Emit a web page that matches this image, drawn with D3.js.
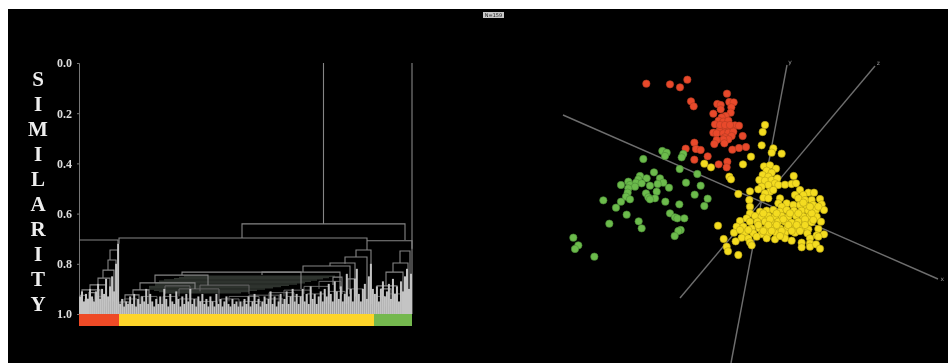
<!DOCTYPE html>
<html>
<head>
<meta charset="utf-8">
<script src="https://d3js.org/d3.v7.min.js"></script>
<style>
    html, body { margin: 0; padding: 0; background: #fff; overflow: hidden; }
    svg { display: block; }
    .soft { filter: blur(0.7px); }
</style>
</head>
<body>
<div id="chart"></div>
<script>
const titleLetters = ["S", "I", "M", "I", "L", "A", "R", "I", "T", "Y"];
const similarityTicks = [0, 0.2, 0.4, 0.6, 0.8, 1];
const sampleLabel = "N=159";

// clusters along the colour bar, start and end in leaf units
const barStart = [0, 40, 295];
const barEnd = [40, 295, 333];
const barColors = ["#ee4a26", "#fdd52a", "#74b84e"];

// similarity reached by each leaf stem, left to right
const redStems = [.93, .91, .95, .92, .94, .90, .93, .95, .91, .88, .94, .90, .92, .86, .93, .89, .85, .91, .80, .72];
const yellowStems = [
    .96, .94, .97, .95, .96, .93, .96, .92, .97, .94, .96, .93, .95, .90, .96, .92, .95, .97, .94, .96,
    .93, .96, .90, .94, .97, .92, .95, .96, .91, .94, .97, .93, .96, .92, .95, .90, .96, .94, .97, .93,
    .95, .92, .96, .94, .97, .93, .95, .97, .92, .96, .94, .97, .95, .93, .96, .97, .94, .96, .95, .97,
    .95, .97, .94, .96, .93, .97, .95, .92, .96, .94, .97, .95, .93, .96, .94, .91, .96, .93, .97, .95,
    .92, .96, .94, .91, .96, .93, .90, .95, .92, .96, .93, .90, .95, .92, .96, .89, .94, .92, .96, .93,
    .91, .95, .90, .93, .88, .92, .95, .87, .91, .94, .89, .95, .92, .84, .93, .90, .95, .86, .82, .92, .95, .90, .88, .94, .85, .80, .90
];
const greenStems = [.92, .89, .95, .90, .87, .93, .91, .88, .94, .86, .92, .89, .95, .87, .91, .85, .82, .90, .84];

// dendrogram joins: [left, right, top, left bottom, right bottom]
const mainLinks = [
    [244.5, 244.5, 0, .641, .641], [333, 333, 0, 1, 1],
    [163, 326, .641, .697, .705], [0, 39, .705, .705, .72], [40, 288, .697, .72, .745], [288, 333, .708, .708, .74],
    [31, 39, .745, .785, 1], [29, 37, .785, .825, 1], [24, 35, .825, .857, .95], [19, 31, .857, .884, .95],
    [11, 27, .884, .904, .94], [3, 21, .904, .95, .94], [1, 7, .925, .96, .95], [10, 16, .915, .96, .95],
    [277, 292, .745, .773, .96], [266, 288, .773, .80, .95], [251, 276, .797, .809, .93], [224, 271, .809, .833, .92],
    [183, 261, .833, .845, .90], [103, 222, .833, .845, .90], [76, 129, .845, .876, .885],
    [61, 116, .876, .904, .90], [54, 70, .904, .924, .96], [46, 60, .924, .952, .96], [41, 50, .952, .97, .96],
    [321, 331, .749, .797, .95], [314, 329, .797, .833, .95], [307, 324, .833, .888, .93], [298, 318, .888, .93, .95],
    [302, 312, .90, .94, .95], [254, 263, .853, .884, .92], [269, 277, .86, .90, .93]
];
// small low joins, drawn a bit dimmer
const lowLinks = [
    [86, 111, .888, .92, .94], [121, 170, .885, .91, .92], [100, 140, .90, .93, .95], [150, 180, .93, .95, .96],
    [170, 200, .925, .95, .96], [190, 215, .915, .94, .95], [205, 232, .905, .93, .95], [225, 250, .89, .92, .94],
    [240, 262, .87, .90, .93],
    [45, 58, .94, .97, .97], [62, 78, .93, .97, .96], [84, 98, .93, .97, .96], [100, 118, .94, .97, .97],
    [120, 138, .95, .97, .97], [142, 160, .94, .97, .97], [164, 182, .95, .975, .97], [186, 204, .94, .97, .97],
    [208, 224, .93, .97, .96], [228, 246, .92, .97, .96], [250, 266, .91, .96, .96], [268, 284, .90, .96, .95],
    [6, 14, .94, .97, .97], [18, 26, .93, .97, .97], [298, 306, .93, .97, .97], [310, 322, .92, .97, .96]
];
// the faint layered lines that read as a dark block under the big joins
const faintStart = [105, 100, 95, 85, 80, 76, 76, 76, 70, 70, 70, 75, 80, 85];
const faintEnd = [256, 250, 244, 238, 232, 226, 218, 210, 202, 194, 186, 178, 170, 162];
const faintLevel = [.85, .855, .86, .865, .87, .875, .88, .885, .89, .895, .90, .905, .91, .915];

const redPoints = [
    [259, 101], [330, 103], [360, 112], [382, 89], [393, 154], [401, 169], [501, 131], [472, 162], [482, 165], [508, 156],
    [521, 157], [514, 172], [482, 178], [460, 191], [512, 188], [497, 198], [485, 202], [476, 212], [465, 223], [490, 215],
    [505, 212], [525, 226], [537, 227], [500, 230], [515, 240], [488, 235], [478, 243], [460, 248], [470, 250], [490, 250],
    [505, 248], [520, 245], [495, 262], [515, 258], [505, 268], [548, 258], [490, 268], [470, 270], [463, 282], [493, 280],
    [403, 278], [377, 296], [408, 297], [422, 300], [443, 319], [403, 329], [517, 299], [537, 294], [558, 291], [476, 343],
    [502, 335], [500, 352], [480, 225], [495, 225], [510, 225]
];
const greenPoints = [
    [250, 327], [307, 303], [320, 308], [315, 318], [370, 312], [365, 322], [359, 357], [412, 372], [378, 398], [422, 407],
    [404, 434], [443, 446], [433, 468], [282, 367], [240, 378], [260, 385], [235, 388], [228, 398], [205, 395], [183, 405],
    [210, 405], [245, 400], [225, 410], [205, 415], [300, 385], [310, 398], [293, 402], [270, 407], [327, 413], [290, 425],
    [203, 428], [198, 440], [210, 448], [258, 430], [265, 442], [285, 445], [270, 448], [316, 455], [358, 463], [183, 455],
    [168, 473], [130, 451], [200, 494], [148, 521], [236, 514], [245, 535], [330, 490], [345, 502], [352, 505], [373, 505],
    [362, 540], [355, 543], [344, 558], [40, 563], [55, 586], [45, 597], [103, 620]
];
const yellowPoints = [
    [615, 225], [608, 246], [605, 286], [640, 295], [635, 308], [665, 311], [573, 320], [549, 343], [433, 341], [453, 352],
    [508, 380], [513, 388], [535, 432], [570, 424], [701, 378], [474, 527], [491, 567], [500, 590], [504, 604], [535, 615],
    [612, 349], [630, 346], [648, 356], [620, 362], [635, 368], [608, 375], [625, 380], [598, 390], [615, 392], [635, 390],
    [652, 385], [645, 400], [625, 405], [605, 410], [595, 418], [655, 405], [675, 404], [695, 402], [708, 400], [630, 425],
    [615, 430], [610, 443], [625, 445], [640, 420],
    [720, 420], [745, 428], [762, 428], [705, 435], [730, 435], [715, 445], [735, 450], [755, 450], [780, 447], [660, 445], [568, 450],
    [570, 470], [680, 460], [700, 465], [720, 465], [740, 468], [760, 465], [785, 463], [655, 460], [665, 470],
    [570, 490], [600, 485], [620, 482], [640, 480], [660, 485], [680, 480], [702, 482], [725, 482], [745, 482], [768, 480], [792, 480],
    [560, 505], [585, 498], [605, 500], [625, 498], [645, 500], [665, 498], [685, 500], [708, 498], [730, 500], [750, 498], [770, 500],
    [540, 513], [570, 515], [592, 515], [615, 515], [635, 517], [655, 515], [675, 515], [695, 518], [715, 515], [735, 515], [755, 517], [783, 515],
    [530, 530], [550, 530], [575, 535], [598, 535], [620, 535], [640, 535], [660, 535], [682, 535], [702, 538], [725, 535], [745, 538], [775, 537],
    [522, 548], [555, 548], [580, 550], [605, 552], [625, 550], [650, 550], [675, 550], [705, 548], [742, 550], [770, 556], [792, 553],
    [545, 563], [565, 565], [620, 565], [645, 568], [675, 565], [695, 572], [750, 565], [775, 560],
    [527, 574], [570, 577], [575, 586], [725, 578], [750, 580], [725, 592], [750, 590], [768, 583], [780, 596],
    [610, 490], [630, 508], [650, 490], [670, 508], [690, 490], [715, 490], [735, 508], [755, 490], [775, 470], [595, 525],
    [625, 525], [650, 525], [685, 525], [710, 525], [735, 525], [565, 540], [610, 543], [635, 543], [665, 543], [695, 543],
    [720, 543], [540, 540], [590, 560], [660, 558], [760, 510], [750, 470], [730, 458]
];

// 3D axes: name, both ends, label spot
const axisNames = ["x", "y", "z"];
const axisFrom = [[9, 195], [681, 45], [945, 48]];
const axisTo = [[1134, 687], [513, 939], [360, 744]];
const axisLabelAt = [[1147, 693], [690, 42], [955, 44]];

const width = 948, height = 363;

const svg = d3.select("#chart").append("svg")
    .attr("width", width)
    .attr("height", height);

// the picture is a black panel with a white sliver top and left
svg.append("rect")
    .attr("x", 8)
    .attr("y", 9)
    .attr("width", width - 8)
    .attr("height", height - 9)
    .attr("fill", "black");

let y = d3.scaleLinear().domain([0, 1]).range([63, 314]);
let x = d3.scaleLinear().domain([0, 333]).range([79, 412]);
let leaf = d3.scaleLinear().domain([0, 165]).range([80, 411]);

let left = svg.append("g").attr("class", "soft");

// vertical title
left.append("g")
    .selectAll("text")
    .data(titleLetters)
    .enter()
    .append("text")
    .attr("x", 38)
    .attr("y", (d, i) => 86 + i * 25)
    .attr("text-anchor", "middle")
    .attr("font-family", "Liberation Serif")
    .attr("font-weight", "bold")
    .attr("font-size", "21px")
    .attr("fill", "#eee")
    .text(d => d);

// similarity axis
let yAxis = left.append("g")
    .attr("transform", "translate(79,0)")
    .call(d3.axisLeft(y).tickValues(similarityTicks).tickFormat(d3.format(".1f")).tickSize(2).tickPadding(5));
yAxis.selectAll("path, line").attr("stroke", "#777");
yAxis.selectAll("text")
    .attr("font-family", "Liberation Serif")
    .attr("font-weight", "bold")
    .attr("font-size", "12px")
    .attr("fill", "#ddd");

left.append("g")
    .selectAll("line")
    .data(faintLevel)
    .enter()
    .append("line")
    .attr("x1", (d, i) => x(faintStart[i]))
    .attr("x2", (d, i) => x(faintEnd[i]))
    .attr("y1", d => y(d))
    .attr("y2", d => y(d))
    .attr("stroke", "#2e332e")
    .attr("stroke-width", 1.5);

function linkPath(d) {
    return `M${x(d[0])},${y(d[3])}V${y(d[2])}H${x(d[1])}V${y(d[4])}`;
}

left.append("g")
    .selectAll("path")
    .data(lowLinks)
    .enter()
    .append("path")
    .attr("d", linkPath)
    .attr("fill", "none")
    .attr("stroke", "#666")
    .attr("stroke-width", 1);

left.append("g")
    .selectAll("path")
    .data(mainLinks)
    .enter()
    .append("path")
    .attr("d", linkPath)
    .attr("fill", "none")
    .attr("stroke", "#858585")
    .attr("stroke-width", 1.1);

let stems = redStems.concat(yellowStems, greenStems);
left.append("g")
    .selectAll("line")
    .data(stems)
    .enter()
    .append("line")
    .attr("x1", (d, i) => leaf(i))
    .attr("x2", (d, i) => leaf(i))
    .attr("y1", d => y(d))
    .attr("y2", y(1))
    .attr("stroke", "#c4c4c4")
    .attr("stroke-width", 2);

// colour bar under the tree
left.append("g")
    .selectAll("rect")
    .data(barColors)
    .enter()
    .append("rect")
    .attr("x", (d, i) => x(barStart[i]))
    .attr("y", y(1))
    .attr("width", (d, i) => x(barEnd[i]) - x(barStart[i]))
    .attr("height", 12)
    .attr("fill", d => d);

// little sample size tag
let tag = svg.append("g").attr("class", "soft");
tag.append("rect")
    .attr("x", 483)
    .attr("y", 12)
    .attr("width", 21)
    .attr("height", 6)
    .attr("fill", "#c8c8c8");
tag.append("text")
    .attr("x", 493.5)
    .attr("y", 17)
    .attr("text-anchor", "middle")
    .attr("font-family", "DejaVu Sans")
    .attr("font-size", "5px")
    .attr("fill", "#222")
    .text(sampleLabel);

// 3D view
let px = d3.scaleLinear().domain([0, 1170]).range([560, 950]);
let py = d3.scaleLinear().domain([0, 939]).range([50, 363]);

let right = svg.append("g").attr("class", "soft");

right.append("g")
    .selectAll("line")
    .data(axisNames)
    .enter()
    .append("line")
    .attr("x1", (d, i) => px(axisFrom[i][0]))
    .attr("y1", (d, i) => py(axisFrom[i][1]))
    .attr("x2", (d, i) => px(axisTo[i][0]))
    .attr("y2", (d, i) => py(axisTo[i][1]))
    .attr("stroke", "#6e6e6e")
    .attr("stroke-width", 1.4);

right.append("g")
    .selectAll("text")
    .data(axisNames)
    .enter()
    .append("text")
    .attr("x", (d, i) => px(axisLabelAt[i][0]))
    .attr("y", (d, i) => py(axisLabelAt[i][1]))
    .attr("text-anchor", "middle")
    .attr("font-family", "DejaVu Sans")
    .attr("font-size", "6px")
    .attr("fill", "#999")
    .text(d => d);

function drawPoints(points, fill, edge) {
    right.append("g")
        .selectAll("circle")
        .data(points)
        .enter()
        .append("circle")
        .attr("cx", d => px(d[0]))
        .attr("cy", d => py(d[1]))
        .attr("r", 3.7)
        .attr("fill", fill)
        .attr("stroke", edge)
        .attr("stroke-width", 0.6);
}

drawPoints(redPoints, "#e8492b", "#b23a22");
drawPoints(greenPoints, "#6cbb4c", "#4a8a36");
drawPoints(yellowPoints, "#f4dc20", "#b39f14");
</script>
</body>
</html>
